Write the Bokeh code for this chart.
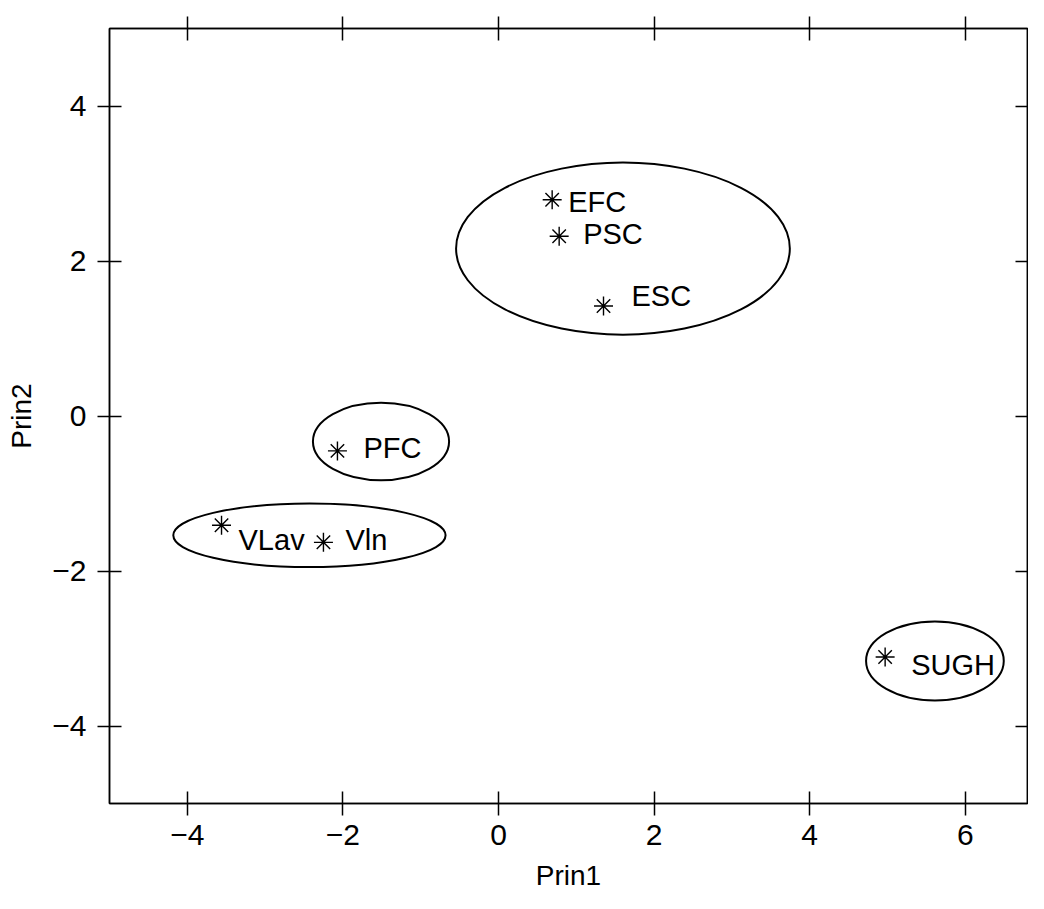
from bokeh.plotting import figure
from bokeh.models import ColumnDataSource, LinearAxis, FixedTicker, Range1d
from bokeh.embed import file_html
from bokeh.resources import INLINE
from bokeh.core.properties import value

# ---- data ----
names = ["EFC", "PSC", "ESC", "PFC", "VLav", "Vln", "SUGH"]
prin1 = [0.69, 0.78, 1.35, -2.07, -3.56, -2.25, 4.97]
prin2 = [2.79, 2.32, 1.42, -0.45, -1.41, -1.63, -3.11]

cluster_x = [1.60, -1.51, -2.43, 5.61]
cluster_y = [2.16, -0.33, -1.54, -3.16]
cluster_w = [4.29, 1.75, 3.50, 1.77]
cluster_h = [2.22, 1.00, 0.82, 1.02]

x_ticks = [-4, -2, 0, 2, 4, 6]
y_ticks = [-4, -2, 0, 2, 4]

# label placement (screen pixels, relative to each point)
label_dx = [16, 24, 28, 26, 17, 22, 26]
label_dy = [2, -2, -10, -3, 15, -2, 8]

FONT = "Liberation Sans"

def fmt(t):
    return ("\u2212" + str(abs(t))) if t < 0 else str(t)

p = figure(width=1028, height=893, output_backend="svg", toolbar_location=None,
           x_range=Range1d(-5, 6.80), y_range=Range1d(-5, 5),
           x_axis_location=None, y_axis_location=None,
           min_border_left=109, min_border_right=1, min_border_top=28, min_border_bottom=90)
p.grid.visible = False
p.outline_line_color = "black"
p.outline_line_width = 1.5

def style_axis(ax, ticks, labels=True):
    ax.ticker = FixedTicker(ticks=ticks)
    ax.minor_tick_line_color = None
    ax.axis_line_color = "black"
    ax.axis_line_width = 1.5
    ax.major_tick_line_color = "black"
    ax.major_tick_line_width = 1.5
    ax.major_tick_in = 12
    ax.major_tick_out = 12
    if labels:
        ax.major_label_overrides = {t: fmt(t) for t in ticks}
        ax.major_label_text_font = FONT
        ax.major_label_text_font_size = "30px"
        ax.major_label_text_color = "black"
        ax.major_label_standoff = 9
        ax.axis_label_text_font = FONT
        ax.axis_label_text_font_size = "28px"
        ax.axis_label_text_font_style = "normal"
        ax.axis_label_text_color = "black"
    else:
        ax.major_label_overrides = {t: "" for t in ticks}
        ax.major_label_text_font_size = "1px"
        ax.major_label_standoff = 0

bottom = LinearAxis(axis_label="Prin1")
style_axis(bottom, x_ticks)
bottom.axis_label_standoff = 12
left = LinearAxis(axis_label="Prin2")
style_axis(left, y_ticks)
left.major_label_standoff = 11
left.axis_label_standoff = 12
top = LinearAxis()
style_axis(top, x_ticks, labels=False)
right = LinearAxis()
style_axis(right, y_ticks, labels=False)
right.major_tick_out = 0

p.add_layout(bottom, "below")
p.add_layout(left, "left")
p.add_layout(top, "above")
p.add_layout(right, "right")

csrc = ColumnDataSource(dict(x=cluster_x, y=cluster_y, w=cluster_w, h=cluster_h))
p.ellipse(x="x", y="y", width="w", height="h", source=csrc,
          fill_color=None, line_color="black", line_width=2)

src = ColumnDataSource(dict(x=prin1, y=prin2, name=names, dx=label_dx, dy=label_dy))
p.scatter(x="x", y="y", source=src, marker="asterisk", size=19,
          line_color="black", line_width=1.4)
p.text(x="x", y="y", text="name", source=src, x_offset="dx", y_offset="dy",
       text_font=value(FONT), text_font_size="29px", text_color="black",
       text_align="left", text_baseline="middle")

open("out.html", "w").write(file_html(p, INLINE))
